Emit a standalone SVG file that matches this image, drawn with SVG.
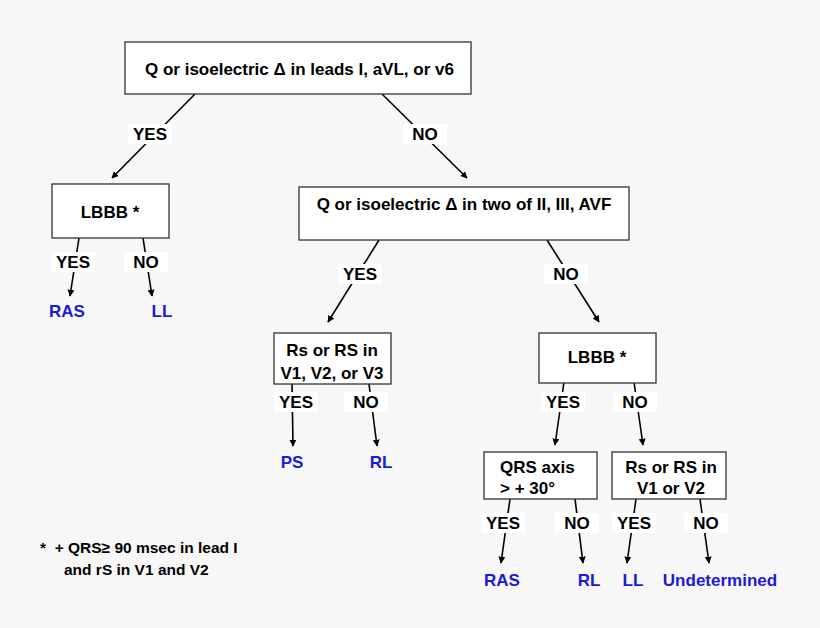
<svg xmlns="http://www.w3.org/2000/svg" width="820" height="628" viewBox="0 0 820 628">
<style>
text{font-family:"Liberation Sans",Arial,sans-serif;font-weight:bold;font-size:17px;fill:#000}
.b{fill:#fff;stroke:#333;stroke-width:1.3}
.o{fill:#1a1ad8;text-anchor:middle}
.m{text-anchor:middle}
.lb{fill:#fff}
.c line{stroke:#000;stroke-width:1.6;marker-end:url(#a)}
</style>
<defs><marker id="a" viewBox="0 0 10 10" refX="9" refY="5" markerWidth="7" markerHeight="7" orient="auto" markerUnits="userSpaceOnUse"><path d="M0,0L10,5L0,10z" fill="#000"/></marker></defs>
<rect width="820" height="628" fill="#f7f7f7"/>
<g class="c">
<line x1="195" y1="94" x2="112" y2="178"/>
<line x1="382" y1="94" x2="467" y2="178"/>
<line x1="79" y1="238" x2="70" y2="296"/>
<line x1="143" y1="238" x2="152" y2="296"/>
<line x1="379" y1="240" x2="328" y2="322"/>
<line x1="547" y1="240" x2="599" y2="322"/>
<line x1="292" y1="384" x2="293" y2="446"/>
<line x1="369" y1="384" x2="377" y2="446"/>
<line x1="564" y1="382" x2="555" y2="445"/>
<line x1="634" y1="382" x2="643" y2="445"/>
<line x1="510" y1="499" x2="501" y2="563"/>
<line x1="575" y1="499" x2="583" y2="563"/>
<line x1="636" y1="499" x2="627" y2="563"/>
<line x1="700" y1="499" x2="709" y2="563"/>
</g>
<g id="labels">
<rect class="lb" x="128" y="124" width="44" height="20"/><text class="m" x="150" y="140">YES</text>
<rect class="lb" x="403" y="124" width="44" height="20"/><text class="m" x="425" y="140">NO</text>
<rect class="lb" x="51" y="252" width="44" height="20"/><text class="m" x="73" y="268">YES</text>
<rect class="lb" x="124" y="252" width="44" height="20"/><text class="m" x="146" y="268">NO</text>
<rect class="lb" x="338" y="264" width="44" height="20"/><text class="m" x="360" y="280">YES</text>
<rect class="lb" x="544" y="264" width="44" height="20"/><text class="m" x="566" y="280">NO</text>
<rect class="lb" x="274" y="392" width="44" height="20"/><text class="m" x="296" y="408">YES</text>
<rect class="lb" x="344" y="392" width="44" height="20"/><text class="m" x="366" y="408">NO</text>
<rect class="lb" x="541" y="392" width="44" height="20"/><text class="m" x="563" y="408">YES</text>
<rect class="lb" x="613" y="392" width="44" height="20"/><text class="m" x="635" y="408">NO</text>
<rect class="lb" x="481" y="513" width="44" height="20"/><text class="m" x="503" y="529">YES</text>
<rect class="lb" x="555" y="513" width="44" height="20"/><text class="m" x="577" y="529">NO</text>
<rect class="lb" x="612" y="513" width="44" height="20"/><text class="m" x="634" y="529">YES</text>
<rect class="lb" x="684" y="513" width="44" height="20"/><text class="m" x="706" y="529">NO</text>
</g>
<g id="n1"><rect class="b" x="125" y="42" width="346" height="52"/><text x="145" y="75">Q or isoelectric Δ in leads I, aVL, or v6</text></g>
<g id="n2"><rect class="b" x="52" y="184" width="117" height="54"/><text class="m" x="110" y="218">LBBB *</text></g>
<g id="n3"><rect class="b" x="299" y="187" width="330" height="53"/><text class="m" x="464" y="210">Q or isoelectric Δ in two of II, III, AVF</text></g>
<g id="n4"><rect class="b" x="274" y="333" width="117" height="51"/><text class="m" x="332" y="356">Rs or RS in</text><text class="m" x="332" y="379">V1, V2, or V3</text></g>
<g id="n5"><rect class="b" x="539" y="333" width="117" height="50"/><text class="m" x="597" y="363">LBBB *</text></g>
<g id="n6"><rect class="b" x="484" y="452" width="113" height="47"/><text x="500" y="473">QRS axis</text><text x="500" y="494">&gt; + 30°</text></g>
<g id="n7"><rect class="b" x="612" y="452" width="114" height="47"/><text class="m" x="671" y="473">Rs or RS in</text><text class="m" x="671" y="494">V1 or V2</text></g>
<g id="outcomes">
<text class="o" x="67" y="317">RAS</text>
<text class="o" x="162" y="317">LL</text>
<text class="o" x="292" y="468">PS</text>
<text class="o" x="381" y="468">RL</text>
<text class="o" x="502" y="586">RAS</text>
<text class="o" x="589" y="586">RL</text>
<text class="o" x="633" y="586">LL</text>
<text class="o" x="720" y="586">Undetermined</text>
</g>
<g id="note">
<text x="40" y="553" xml:space="preserve" style="font-size:15.5px">*  + QRS≥ 90 msec in lead I</text>
<text x="64" y="575" style="font-size:15.5px">and rS in V1 and V2</text>
</g>
</svg>
